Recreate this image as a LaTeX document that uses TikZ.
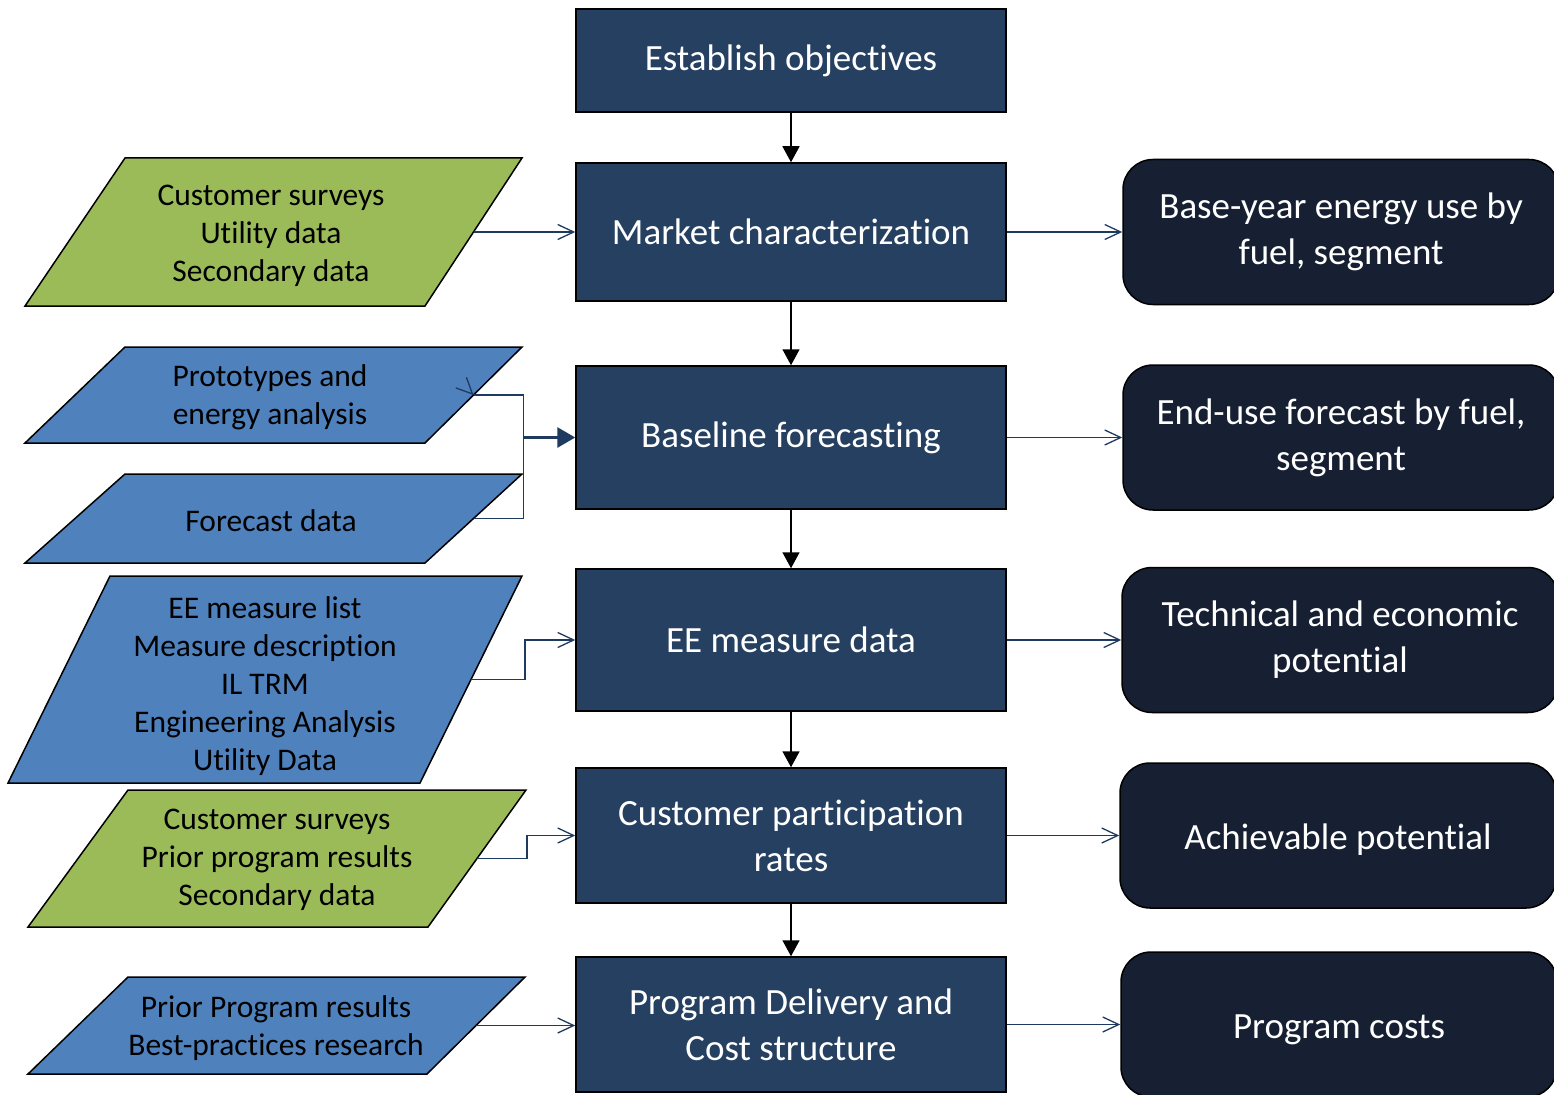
\documentclass[tikz,border=0pt]{standalone}
\usepackage{fontspec}
\setmainfont{Carlito}[Ligatures=NoCommon]
\usetikzlibrary{arrows.meta}
\definecolor{stageColor}{HTML}{264061}
\definecolor{resultColor}{HTML}{162032}
\definecolor{inputBlue}{HTML}{4F81BD}
\definecolor{inputGreen}{HTML}{9BBB59}
\definecolor{lineColor}{HTML}{1F3A5F}

\begin{document}
\begin{tikzpicture}[
x=1pt,y=-1pt,
stage/.style={draw=black,line width=1.5pt,fill=stageColor,text=white,align=center,
  minimum width=430pt,inner sep=0pt,font=\fontsize{37}{46}\selectfont},
result/.style={draw=black,line width=1.5pt,fill=resultColor,text=white,align=center,
  rounded corners=30pt,minimum width=436pt,minimum height=145pt,inner sep=0pt,
  font=\fontsize{37}{46}\selectfont},
oneline/.style={text height=34pt},
source/.style={draw=black,line width=1.5pt},
srctext/.style={align=center,inner sep=0pt,font=\fontsize{31.5}{38}\selectfont},
flow/.style={line width=1.5pt,-{Triangle[length=16pt,width=17pt]}},
feed/.style={draw=lineColor,line width=1.3pt,-{Straight Barb[length=16pt,width=15pt]}},
]
\clip (0,0) rectangle (1554,1094);

% process column
\node[stage,minimum height=103pt] (obj) at (791,60.5) {Establish objectives};
\node[stage,minimum height=138pt] (mkt) at (791,232) {Market characterization};
\node[stage,minimum height=143pt] (base) at (791,437.5) {Baseline forecasting};
\node[stage,minimum height=142pt] (eem) at (791,640) {EE measure data};
\node[stage,minimum height=135pt] (cpr) at (791,835.5) {Customer participation\\rates};
\node[stage,minimum height=135pt] (prg) at (791,1024.5) {Program Delivery and\\Cost structure};

% outputs
\node[result] (byr) at (1341,232) {Base-year energy use by\\fuel, segment};
\node[result] (euf) at (1341,437.5) {End-use forecast by fuel,\\segment};
\node[result] (tep) at (1340,640) {Technical and economic\\potential};
\node[result,oneline] (ach) at (1338,835.5) {Achievable potential};
\node[result,oneline] (cst) at (1339,1024.5) {Program costs};

% inputs
\path[source,fill=inputGreen] (125,158) -- (522,158) -- coordinate[midway] (svyR) (425,306) -- (25,306) -- cycle;
\path[source,fill=inputBlue] (125,347) -- (522,347) -- coordinate[midway] (proR) (425,443) -- (25,443) -- cycle;
\path[source,fill=inputBlue] (125,474) -- (522,474) -- coordinate[midway] (fcsR) (425,563) -- (25,563) -- cycle;
\path[source,fill=inputBlue] (110,576) -- (522,576) -- coordinate[midway] (lstR) (420,783) -- (8,783) -- cycle;
\path[source,fill=inputGreen] (128,790) -- (526,790) -- coordinate[midway] (cusR) (428,927) -- (28,927) -- cycle;
\path[source,fill=inputBlue] (128,977) -- (525,977) -- coordinate[midway] (priR) (427,1074) -- (28,1074) -- cycle;

\node[srctext] (svy) at (271,236) {Customer surveys\\Utility data\\Secondary data};
\node[srctext] (pro) at (270,397) {Prototypes and\\energy analysis};
\node[srctext] (fcs) at (271,521) {Forecast data};
\node[srctext] (lst) at (265,686) {EE measure list\\Measure description\\IL TRM\\Engineering Analysis\\Utility Data};
\node[srctext] (cus) at (277,860) {Customer surveys\\Prior program results\\Secondary data};
\node[srctext] (pri) at (276,1028) {Prior Program results\\Best-practices research};

% connectors
\draw[flow] (obj) -- (mkt);
\draw[flow] (mkt) -- (base);
\draw[flow] (base) -- (eem);
\draw[flow] (eem) -- (cpr);
\draw[flow] (cpr) -- (prg);

\draw[feed] (mkt) -- (byr);
\draw[feed] (base) -- (euf);
\draw[feed] (eem) -- (tep);
\draw[feed] (cpr) -- (ach);
\draw[feed] (prg) -- (cst);

\draw[feed] (svyR) -- (svyR -| mkt.west);
\coordinate (join) at ([xshift=-52pt]base.west);
\draw[lineColor,line width=1.3pt] (proR) -| (join) |- (fcsR);
\draw[feed] ([shift={(-1,-1)}]proR) -- (proR);
\draw[lineColor,line width=3pt,-{Triangle[length=18pt,width=20pt]}] (join) -- (base.west);
\draw[feed] (lstR) -- ++(54,0) |- (eem.west);
\draw[feed] (cusR) -- ++(50,0) |- (cpr.west);
\draw[feed] (priR) -- (priR -| prg.west);
\end{tikzpicture}
\end{document}
